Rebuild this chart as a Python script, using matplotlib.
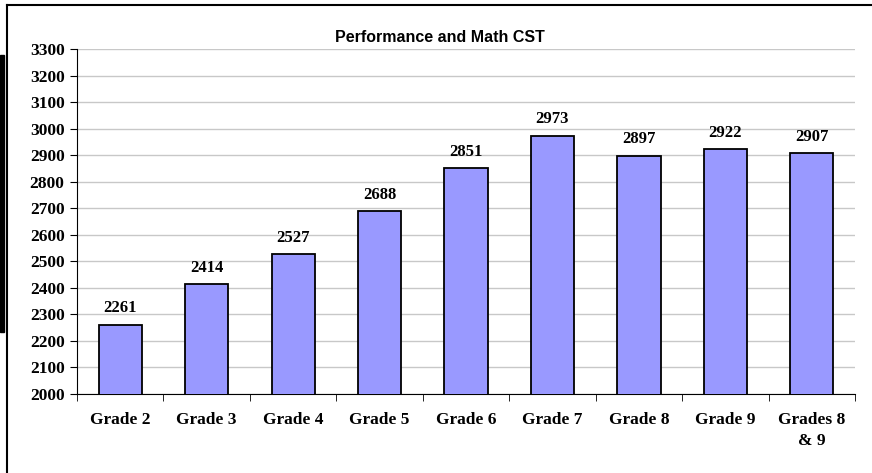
import matplotlib.pyplot as plt
from matplotlib.lines import Line2D
from matplotlib.patches import Rectangle
import numpy as np

grades = ['Grade 2', 'Grade 3', 'Grade 4', 'Grade 5', 'Grade 6',
          'Grade 7', 'Grade 8', 'Grade 9', 'Grades 8\n& 9']
scores = [2261, 2414, 2527, 2688, 2851, 2973, 2897, 2922, 2907]
y_ticks = list(range(2000, 3301, 100))

fig = plt.figure(figsize=(8.72, 4.73), dpi=100)
ax = fig.add_axes([77 / 872, 1 - 394 / 473, (855 - 77) / 872, (394 - 49) / 473])

x = np.arange(len(grades))
ax.bar(x, scores, width=0.5, color='#9999ff', edgecolor='black', linewidth=1.3,
       zorder=3)

# value labels above bars
for xi, v in zip(x, scores):
    ax.annotate(str(v), (xi, v), xytext=(0, 9), textcoords='offset points',
                ha='center', va='baseline', fontsize=12, fontweight='bold',
                family='Liberation Serif')

ax.set_xlim(-0.5, len(grades) - 0.5)
ax.set_ylim(2000, 3300)
ax.set_yticks(y_ticks)
ax.set_yticklabels([str(t) for t in y_ticks], fontsize=12.5, fontweight='bold',
                   family='Liberation Serif')
ax.yaxis.grid(True, color='#c8c8c8', linewidth=1)
ax.set_axisbelow(True)

ax.set_xticks(x)
ax.set_xticklabels(grades, fontsize=12.5, fontweight='bold',
                   family='Liberation Serif', linespacing=1.45)
ax.set_xticks(np.arange(-0.5, len(grades)), minor=True)
ax.tick_params(axis='x', which='major', length=0, pad=13)
ax.tick_params(axis='x', which='minor', length=5, direction='out')
ax.tick_params(axis='y', length=5, direction='out', pad=4)

ax.spines['top'].set_visible(False)
ax.spines['right'].set_visible(False)

# title centred on the chart area, not the plot area
fig.text(440 / 872, 1 - 42 / 473, 'Performance and Math CST', ha='center',
         va='baseline', fontsize=11.5, fontweight='bold', family='Liberation Sans')

# outer frame of the chart area
fig.add_artist(Line2D([7 / 872, 1], [1 - 5 / 473, 1 - 5 / 473], color='black', linewidth=1.5))
fig.add_artist(Line2D([7 / 872, 7 / 872], [0, 1 - 5 / 473], color='black', linewidth=1.5))
fig.add_artist(Rectangle((0, 1 - 332 / 473), 4 / 872, (332 - 55) / 473,
                         color='black', transform=fig.transFigure))

fig.savefig('out.png', dpi=100)
